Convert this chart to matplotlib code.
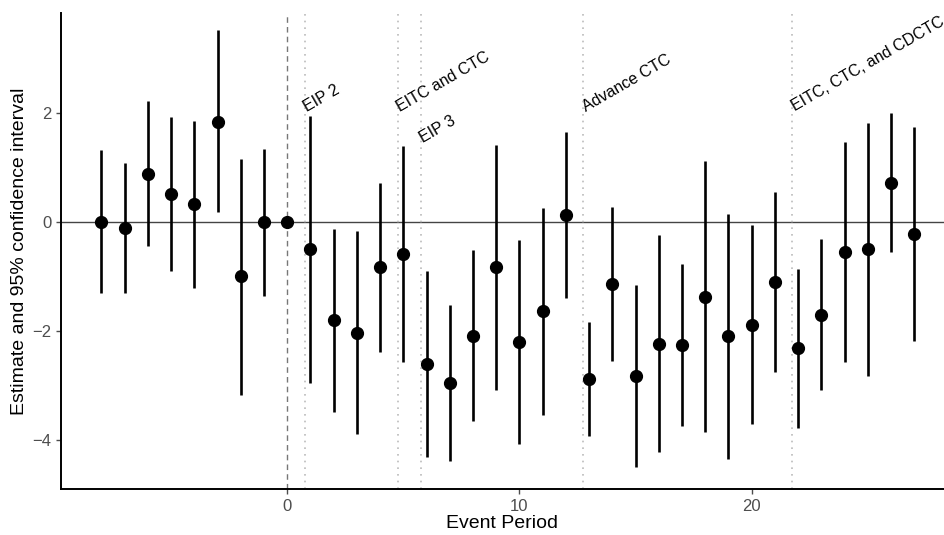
import numpy as np
import matplotlib.pyplot as plt

plt.rcParams['font.family'] = ['Liberation Sans', 'DejaVu Sans']

# event periods and estimates with 95% CI
period = list(range(-8, 28))
estimate = [0.00, -0.12, 0.88, 0.51, 0.32, 1.84, -1.00, 0.00, 0.00, -0.50,
            -1.80, -2.03, -0.83, -0.59, -2.61, -2.95, -2.09, -0.83, -2.21, -1.64,
            0.13, -2.88, -1.14, -2.83, -2.24, -2.25, -1.37, -2.10, -1.89, -1.11,
            -2.32, -1.71, -0.55, -0.50, 0.71, -0.23]
ci_low = [-1.31, -1.30, -0.44, -0.91, -1.22, 0.18, -3.17, -1.36, 0.00, -2.96,
          -3.48, -3.90, -2.38, -2.57, -4.32, -4.38, -3.66, -3.08, -4.07, -3.54,
          -1.40, -3.93, -2.56, -4.49, -4.23, -3.74, -3.85, -4.35, -3.71, -2.76,
          -3.79, -3.08, -2.57, -2.82, -0.56, -2.18]
ci_high = [1.32, 1.08, 2.21, 1.93, 1.85, 3.52, 1.15, 1.34, 0.00, 1.94,
           -0.13, -0.17, 0.71, 1.39, -0.90, -1.53, -0.51, 1.40, -0.34, 0.25,
           1.65, -1.83, 0.28, -1.16, -0.24, -0.78, 1.11, 0.15, -0.06, 0.54,
           -0.86, -0.32, 1.46, 1.82, 1.99, 1.73]

# policy events
event_x = [0.75, 4.75, 5.75, 12.75, 21.75]
event_labels = ['EIP 2', 'EITC and CTC', 'EIP 3', 'Advance CTC', 'EITC, CTC, and CDCTC']
event_label_y = [2.02, 2.02, 1.45, 2.02, 2.02]

fig = plt.figure(figsize=(9.44, 5.35), dpi=100)
ax = fig.add_axes([0.0646, 0.086, 0.9354, 0.8897])

ax.axhline(0, color='#444444', lw=1.0, zorder=1)
ax.axvline(0, color='#777777', lw=1.0, ls=(0, (4, 3)), zorder=1)
for xv in event_x:
    ax.axvline(xv, color='#bbbbbb', lw=1.2, ls=(0, (1, 3)), zorder=1)
for xv, lab, yv in zip(event_x, event_labels, event_label_y):
    ax.text(xv + 0.1, yv, lab, rotation=30, rotation_mode='anchor', ha='left', va='baseline',
            fontsize=11.5, color='black')

ax.vlines(period, ci_low, ci_high, color='black', lw=1.9, zorder=2)
ax.plot(period, estimate, 'o', color='black', ms=8.5, zorder=3)

ax.set_xlim(-9.74, 28.28)
ax.set_ylim(-4.9, 3.83)
ax.set_xticks([0, 10, 20])
ax.set_yticks([-4, -2, 0, 2])
ax.set_yticklabels(['\u22124', '\u22122', '0', '2'])
ax.tick_params(colors='#4d4d4d', labelsize=12, length=3.5, width=1)
ax.set_xlabel('Event Period', fontsize=14, labelpad=1)
ax.set_ylabel('Estimate and 95% confidence interval', fontsize=14, labelpad=3)

for s in ['top', 'right']:
    ax.spines[s].set_visible(False)
for s in ['left', 'bottom']:
    ax.spines[s].set_linewidth(1.4)
    ax.spines[s].set_color('black')

fig.savefig('out.png', dpi=100)
